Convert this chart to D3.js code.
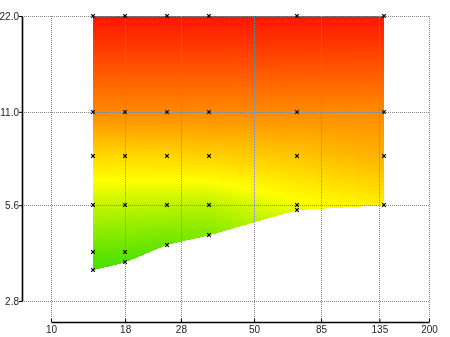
<!DOCTYPE html>
<html><head><meta charset="utf-8">
<script src="https://cdn.jsdelivr.net/npm/d3@7/dist/d3.min.js"></script>
<style>
html,body{margin:0;padding:0;background:#fff;}
#wrap{position:relative;width:450px;height:337px;}
canvas,svg{position:absolute;left:0;top:0;}
</style></head>
<body><div id="wrap"><canvas id="cv" width="450" height="337"></canvas><svg id="sv" width="450" height="337"></svg></div>
<script>
// Data
const xCols = [14, 18, 25, 35, 70, 140];
const colY = [
  [22, 11, 8, 5.6, 4.0, 3.5],
  [22, 11, 8, 5.6, 4.0, 3.7],
  [22, 11, 8, 5.6, 4.2],
  [22, 11, 8, 5.6, 4.5],
  [22, 11, 8, 5.6, 5.4],
  [22, 11, 8, 5.6]
];
// colour level (0 green, 1 yellow, 2 orange, 3 red)
const colZ = [
  [3, 1.98, 1.32, 0.70, 0.22, 0.06],
  [3, 1.98, 1.32, 0.68, 0.22, 0.12],
  [3, 1.98, 1.34, 0.66, 0.24],
  [3, 1.98, 1.38, 0.64, 0.36],
  [3, 1.97, 1.47, 0.95, 0.90],
  [3, 1.95, 1.66, 1.13]
];
const xTicks = [10, 18, 28, 50, 85, 135, 200];
const yTicks = [2.8, 5.6, 11.0, 22.0];

const x = d3.scaleLog().domain([10, 200]).range([51, 429]);
const y = d3.scaleLog().domain([2.8, 22]).range([301, 16]);
const color = d3.scaleLinear().domain([0, 1, 2, 3])
  .range(["#38de00", "#ffff00", "#ff8600", "#ff1400"]).clamp(true);

// polygon of the covered region
const poly = xCols.map((c, i) => [x(c), y(colY[i][0])])
  .concat(xCols.map((c, i) => [x(c), y(colY[i][colY[i].length - 1])]).reverse());

const colFns = colY.map((ys, i) => d3.scaleLinear().domain(ys.map(Math.log)).range(colZ[i]));
const lxCols = xCols.map(Math.log);

function zAt(px, py) {
  const lx = Math.log(x.invert(px)), ly = Math.log(y.invert(py));
  let i = d3.bisectRight(lxCols, lx) - 1;
  i = Math.max(0, Math.min(lxCols.length - 2, i));
  const t = (lx - lxCols[i]) / (lxCols[i + 1] - lxCols[i]);
  return colFns[i](ly) * (1 - t) + colFns[i + 1](ly) * t;
}

const cv = document.getElementById("cv");
const ctx = cv.getContext("2d");
const img = ctx.createImageData(450, 337);
const [x0, x1] = d3.extent(poly, d => d[0]);
const [y0, y1] = d3.extent(poly, d => d[1]);
for (let py = Math.floor(y0); py <= Math.ceil(y1); py++) {
  for (let px = Math.floor(x0); px <= Math.ceil(x1); px++) {
    if (!d3.polygonContains(poly, [px + 0.5, py + 0.5])) continue;
    const c = d3.rgb(color(zAt(px + 0.5, py + 0.5)));
    const k = (py * 450 + px) * 4;
    img.data[k] = c.r; img.data[k + 1] = c.g; img.data[k + 2] = c.b; img.data[k + 3] = 255;
  }
}
ctx.putImageData(img, 0, 0);

const svg = d3.select("#sv");
const r = v => Math.round(v) + 0.5;
const grid = svg.append("g").attr("stroke", "#888").attr("stroke-dasharray", "1,1")
  .attr("shape-rendering", "crispEdges").attr("fill", "none");
grid.selectAll(".v").data(xTicks).join("line")
  .attr("x1", d => r(x(d))).attr("x2", d => r(x(d))).attr("y1", 16).attr("y2", 322);
grid.selectAll(".h").data(yTicks).join("line")
  .attr("y1", d => r(y(d))).attr("y2", d => r(y(d))).attr("x1", 22).attr("x2", 429);

const fmtY = d3.format(".1f");
const yAxis = svg.append("g").attr("transform", "translate(22,0)")
  .call(d3.axisLeft(y).tickValues(yTicks).tickFormat(fmtY).tickSize(3).tickSizeOuter(0).tickPadding(0));
const xAxis = svg.append("g").attr("transform", "translate(0,322)")
  .call(d3.axisBottom(x).tickValues(xTicks).tickFormat(d3.format("d")).tickSizeInner(-3).tickSizeOuter(0).tickPadding(4));
[yAxis, xAxis].forEach(a => {
  a.select(".domain").attr("stroke", "#000").attr("stroke-width", 1.6);
  a.selectAll(".tick line").attr("stroke", "#000");
  a.selectAll("text").attr("font-family", "'Liberation Sans', Arial, sans-serif")
    .attr("font-size", 10).attr("fill", "#222");
});

const pts = [];
xCols.forEach((c, i) => colY[i].forEach(v => pts.push([c, v])));
svg.append("g").selectAll("path").data(pts).join("path")
  .attr("transform", d => `translate(${Math.round(x(d[0]))},${Math.round(y(d[1]))})`)
  .attr("d", "M-1.8,-1.8L1.8,1.8M-1.8,1.8L1.8,-1.8")
  .attr("stroke", "#000").attr("stroke-width", 1.2).attr("fill", "none");
</script></body></html>
